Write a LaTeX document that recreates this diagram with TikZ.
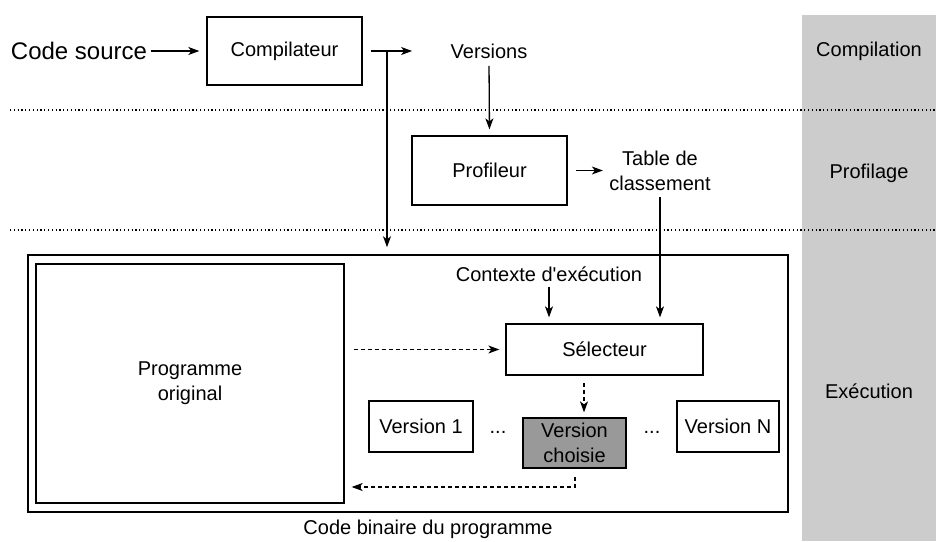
\documentclass[tikz,border=0pt]{standalone}
\usepackage{fontspec}
\setmainfont{Liberation Sans}
\usetikzlibrary{arrows.meta,positioning}

\begin{document}
\begin{tikzpicture}[x=1pt, y=-1pt, font=\fontsize{20}{25}\selectfont,
    box/.style = {draw, line width=1.3pt, inner sep=0pt, align=center},
    arr/.style = {-{Stealth[length=11pt, width=8pt, inset=3pt]}, line width=1.3pt},
    darr/.style = {arr, dash pattern=on 4pt off 3pt, line width=1.2pt},
    sep/.style = {line width=1.2pt, dash pattern=on 1.2pt off 2.6pt}]
    \useasboundingbox (0,0) rectangle (936,541);
    % phase band
    \fill[gray!40] (802,15) rectangle (936,541);
    \draw[sep] (10,110) -- (936,110);
    \draw[sep] (10,230) -- (936,230);
    \node (ph1) at (869,51) {Compilation};
    \node (ph2) at (869,173) {Profilage};
    \node (ph3) at (869,391) {Exécution};
    % compilation
    \node (src) at (79,51) [font=\fontsize{24}{28}\selectfont] {Code source};
    \node[box, minimum width=155, minimum height=68] (comp) at (284.5,51) {Compilateur};
    \node (vers) at (489,51) {Versions};
    \coordinate (split) at (387,51);
    % profilage
    \node[box, minimum width=155, minimum height=69] (prof) at (489.5,170.5) {Profileur};
    \node[align=center] (table) at (660,171) {Table de\\classement};
    % execution
    \node[box, line width=1.5pt, minimum width=760, minimum height=257] (bin) at (408,383.5) {};
    \node (bintxt) at (428,529) {Code binaire du programme};
    \node[box, minimum width=308, minimum height=239] (prog) at (190,383.5) {Programme\\original};
    \node (ctx) at (549,274) {Contexte d\textquotesingle exécution};
    \node[box, minimum width=197, minimum height=51] (sel) at (604.5,349.5) {Sélecteur};
    \node[box, minimum width=104, minimum height=51] (v1) at (421,426.5) {Version 1};
    \node[box, fill=gray!80, minimum width=103, minimum height=50] (vc) at (574.5,443) {Version\\choisie};
    \node[box, minimum width=102, minimum height=51] (vn) at (728,426.5) {Version N};
    \node (dots1) at (498,432) {...};
    \node (dots2) at (652,432) {...};
    \coordinate (pick) at (584,375);
    \coordinate (back) at (575,477);
    % connectors
    \draw[arr, shorten >=7pt] (src) -- (comp);
    \draw[arr, shorten <=8pt, shorten >=35pt] (comp.east) -- (vers.west);
    \draw[arr, shorten >=7pt] (split) -- (split |- bin.north);
    \draw[arr, shorten <=4pt, shorten >=6pt] (vers.south) -- (prof.north);
    \draw[arr, shorten <=8pt, shorten >=3pt] (prof.east) -- (prof.east -| table.west);
    \draw[arr, shorten <=3pt, shorten >=6pt] (table.south) -- (table.south |- sel.north);
    \draw[arr, shorten <=2pt, shorten >=6pt] (ctx.south) -- (ctx.south |- sel.north);
    \draw[darr, shorten <=9pt, shorten >=6pt] (prog.east |- sel.west) -- (sel.west);
    \draw[darr, shorten <=8pt, shorten >=5pt] (pick) -- (pick |- vc.north);
    \draw[darr, shorten >=7pt] (back) -- ++(0,10) -- (prog.east |- 0,487);
\end{tikzpicture}
\end{document}
